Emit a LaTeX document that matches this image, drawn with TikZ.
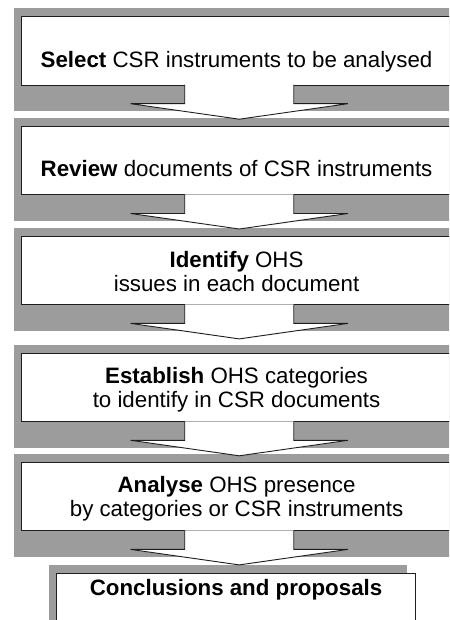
\documentclass[tikz,border=0pt]{standalone}
\usepackage{fontspec}
\setmainfont{Liberation Sans}
\usepackage{xcolor}
\usepackage{tikz}
\usetikzlibrary{calc,positioning}
\definecolor{PanelColor}{HTML}{9C9C9C}
\definecolor{LineColor}{HTML}{1E1E1E}

\begin{document}
\begin{tikzpicture}[
      x=1pt, y=-1pt,
      panel/.style = {fill=PanelColor},
      stepbox/.style = {draw=LineColor, line width=1.1pt, fill=white, anchor=north west,
        inner sep=0pt, minimum width=435.4pt, minimum height=68.6pt},
      steptext/.style = {font=\fontsize{22.3}{22.8}\selectfont, align=center, inner sep=0pt},
      blockarrow/.style = {draw=LineColor, line width=0.9pt, line join=miter, fill=white},
  ]
  \useasboundingbox (0,0) rectangle (449,620);
  \clip (0,0) rectangle (449,620);
  % ┌─────────────┐
  % │ Hintergrund │
  % └─────────────┘
  \foreach \y in {8.5, 118.3, 228.2, 345.1, 454.2}
    \fill[panel] (14,\y) rectangle +(450,103);
  \fill[panel] (49,565.2) rectangle (407,640);
  % ┌────────┐
  % │ Kästen │
  % └────────┘
  \node[stepbox] (select) at (21,16) {};
  \node[stepbox] (review) at (21,125.8) {};
  \node[stepbox] (identify) at (21,235.7) {};
  \node[stepbox] (establish) at (21,352.6) {};
  \node[stepbox] (analyse) at (21,461.7) {};
  \node[stepbox, minimum width=359pt, minimum height=80pt] (conclusions) at (56,573.1) {};

  \node[steptext] (selecttext) at ([xshift=-2.7pt, yshift=-11.5pt]select.center)
    {\strut\textbf{Select} CSR instruments to be analysed};
  \node[steptext] (reviewtext) at ([xshift=-2.7pt, yshift=-11.5pt]review.center)
    {\strut\textbf{Review} documents of CSR instruments};
  \node[steptext] (identifytext) at ([xshift=-2.7pt, yshift=-4pt]identify.center)
    {\strut\textbf{Identify} OHS\\\strut issues in each document};
  \node[steptext] (establishtext) at ([xshift=-2.7pt, yshift=-3.4pt]establish.center)
    {\strut\textbf{Establish} OHS categories\\\strut to identify in CSR documents};
  \node[steptext] (analysetext) at ([xshift=-2.7pt, yshift=-3.4pt]analyse.center)
    {\strut\textbf{Analyse} OHS presence\\\strut by categories or CSR instruments};
  \node[steptext] (conclusionstext) at ([yshift=-18pt]conclusions.north)
    {\strut\textbf{Conclusions and proposals}};
  % ┌────────┐
  % │ Pfeile │
  % └────────┘
  \foreach \boxname in {select, review, identify, establish, analyse}
    \draw[blockarrow] ($(\boxname.south)+(-54.5,-1)$) -- ++(0,19) -- ++(-54.2,0)
      -- ($(\boxname.south)+(0,33.5)$) -- ($(\boxname.south)+(108.7,18)$)
      -- ++(-54.2,0) -- ++(0,-19);
\end{tikzpicture}
\end{document}
